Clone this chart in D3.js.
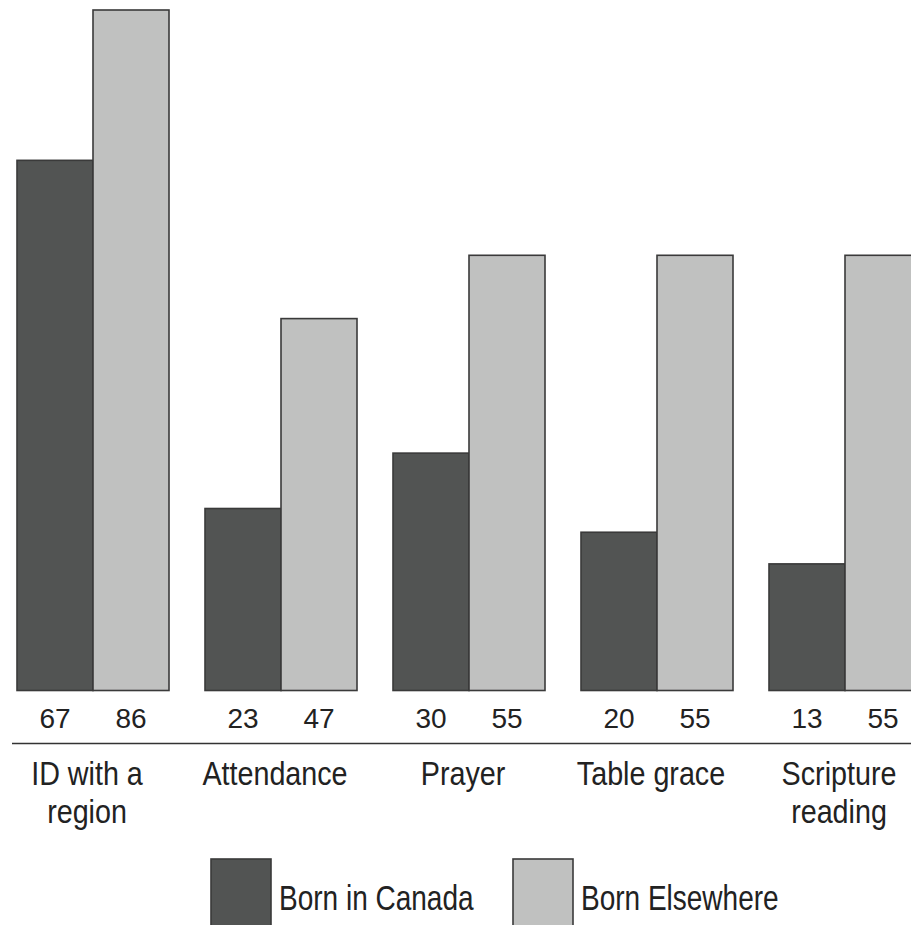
<!DOCTYPE html>
<html>
<head>
<meta charset="utf-8">
<script src="https://cdn.jsdelivr.net/npm/d3@7"></script>
<style>
  html, body { margin: 0; padding: 0; background: #fff; }
  svg { display: block; }
</style>
</head>
<body>
<svg id="chart" width="911" height="925"></svg>
<script>
// ---- data ----
const categories = ["ID with a region", "Attendance", "Prayer", "Table grace", "Scripture reading"];
const categoryLines = [["ID with a", "region"], ["Attendance"], ["Prayer"], ["Table grace"], ["Scripture", "reading"]];
const seriesNames = ["Born in Canada", "Born Elsewhere"];
// bar heights as drawn in the picture
const bornCanada = [67, 23, 30, 20, 16];
const bornElsewhere = [86, 47, 55, 55, 55];
// printed value labels
const canadaLabels = ["67", "23", "30", "20", "13"];
const elsewhereLabels = ["86", "47", "55", "55", "55"];

const colors = ["#525453", "#c0c1c0"];
const strokeCol = "#3a3a3a";
const font = "'Liberation Sans', Arial, sans-serif";

const svg = d3.select("#chart");

const x0 = d3.scaleBand()
  .domain(categories)
  .range([17, 17 + 188 * 5 - 36])
  .paddingInner(36 / 188)
  .paddingOuter(0);

const x1 = d3.scaleBand()
  .domain(seriesNames)
  .range([0, x0.bandwidth()])
  .padding(0);

const y = d3.scaleLinear().domain([0, 86]).range([690.5, 10]);

const rows = categories.map((c, i) => ({
  cat: c,
  lines: categoryLines[i],
  vals: [
    { s: seriesNames[0], v: bornCanada[i], label: canadaLabels[i] },
    { s: seriesNames[1], v: bornElsewhere[i], label: elsewhereLabels[i] }
  ]
}));

const color = d3.scaleOrdinal().domain(seriesNames).range(colors);

const g = svg.selectAll("g.grp")
  .data(rows)
  .join("g")
  .attr("class", "grp")
  .attr("transform", d => `translate(${x0(d.cat)},0)`);

g.selectAll("rect")
  .data(d => d.vals)
  .join("rect")
  .attr("x", d => x1(d.s))
  .attr("y", d => y(d.v))
  .attr("width", x1.bandwidth())
  .attr("height", d => y(0) - y(d.v))
  .attr("fill", d => color(d.s))
  .attr("stroke", strokeCol)
  .attr("stroke-width", 1.6);

// value labels
g.selectAll("text.val")
  .data(d => d.vals)
  .join("text")
  .attr("class", "val")
  .attr("x", d => x1(d.s) + x1.bandwidth() / 2)
  .attr("y", 728)
  .attr("text-anchor", "middle")
  .attr("font-family", font)
  .attr("font-size", 28)
  .attr("fill", "#222")
  .text(d => d.label);

// horizontal rule
svg.append("line")
  .attr("x1", 12).attr("x2", 911)
  .attr("y1", 743.5).attr("y2", 743.5)
  .attr("stroke", "#333")
  .attr("stroke-width", 1.6);

// category labels (condensed via horizontal scaling)
g.append("g")
  .attr("transform", `translate(${x0.bandwidth() / 2 - 6},0) scale(0.87,1)`)
  .append("text")
  .attr("text-anchor", "middle")
  .attr("font-family", font)
  .attr("font-size", 33)
  .attr("fill", "#222")
  .selectAll("tspan")
  .data(d => d.lines)
  .join("tspan")
  .attr("x", 0)
  .attr("y", (d, i) => 785 + i * 38)
  .text(d => d);

// legend
const legendX = [211, 513];
const lg = svg.selectAll("g.leg")
  .data(seriesNames)
  .join("g")
  .attr("class", "leg")
  .attr("transform", (d, i) => `translate(${legendX[i]},859)`);

lg.append("rect")
  .attr("x", 0).attr("y", 0)
  .attr("width", 60).attr("height", 80)
  .attr("fill", d => color(d))
  .attr("stroke", strokeCol)
  .attr("stroke-width", 1.6);

lg.append("g")
  .attr("transform", "translate(68,0) scale(0.8,1)")
  .append("text")
  .attr("x", 0)
  .attr("y", 51)
  .attr("font-family", font)
  .attr("font-size", 35)
  .attr("fill", "#222")
  .text(d => d);
</script>
</body>
</html>
